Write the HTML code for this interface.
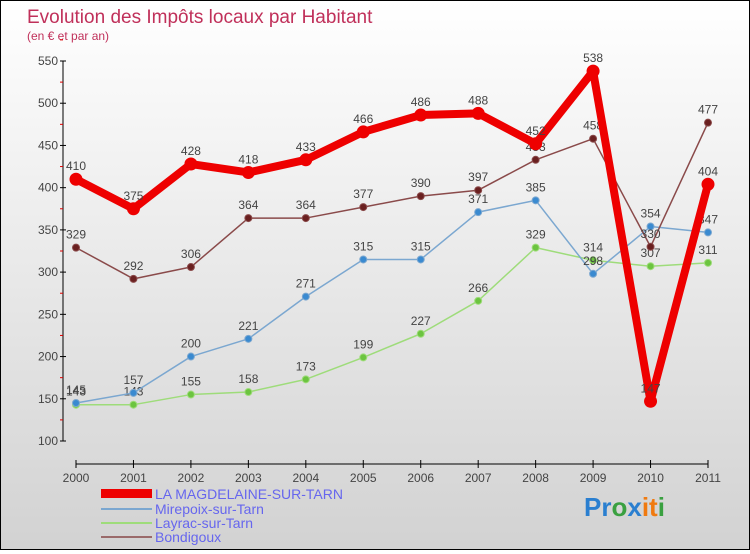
<!DOCTYPE html>
<html><head><meta charset="utf-8"><style>
body{margin:0;}
#c{width:748px;height:548px;border:1px solid #000;background:linear-gradient(#fff,#d2d2d2);position:relative;font-family:"Liberation Sans",sans-serif;}
svg text{font-family:"Liberation Sans",sans-serif;}
</style></head><body>
<div id="c">
<svg id="s" width="748" height="548">
<text x="26" y="22" font-size="19" fill="#c0305a">Evolution des Impôts locaux par Habitant</text>
<text x="26" y="39" font-size="12" fill="#c0305a">(en € et par an)</text>
<g id="axes"></g><g id="series"></g>
<g id="legend">
<rect x="100" y="488" width="51" height="9" fill="#e00"/>
<text x="154" y="498" font-size="14" fill="#6666ee">LA MAGDELAINE-SUR-TARN</text>
<rect x="100" y="507" width="51" height="2" fill="#7ba7d0"/>
<text x="154" y="513" font-size="14" fill="#6666ee">Mirepoix-sur-Tarn</text>
<rect x="100" y="521" width="51" height="2" fill="#9edc7a"/>
<text x="154" y="527" font-size="14" fill="#6666ee">Layrac-sur-Tarn</text>
<rect x="100" y="535" width="51" height="2" fill="#9a6a6a"/>
<text x="154" y="541" font-size="14" fill="#6666ee">Bondigoux</text>
</g>
<text x="583" y="515" font-size="26" font-weight="bold"><tspan fill="#2a7fd0">Pr</tspan><tspan fill="#3aa040">o</tspan><tspan fill="#2a7fd0">x</tspan><tspan fill="#f07a10">it</tspan><tspan fill="#3aa040">i</tspan></text>
</svg></div>
<script>
const years=[2000,2001,2002,2003,2004,2005,2006,2007,2008,2009,2010,2011];
const yTicks=[100,150,200,250,300,350,400,450,500,550];
const magdelaine=[410,375,428,418,433,466,486,488,452,538,147,404];
const mirepoix=[145,157,200,221,271,315,315,371,385,298,354,347];
const layrac=[143,143,155,158,173,199,227,266,329,314,307,311];
const bondigoux=[329,292,306,364,364,377,390,397,433,458,330,477];
const NS="http://www.w3.org/2000/svg";
function X(i){return 75+i*(707-75)/(years.length-1);}
function Y(v){return 440-(v-100)*380/450;}
function mk(t,a,p){const e=document.createElementNS(NS,t);for(const k in a)e.setAttribute(k,a[k]);p.appendChild(e);return e;}
const ax=document.getElementById('axes');
let l=mk('line',{x1:62,y1:Y(550),x2:62,y2:Y(100),stroke:'#000'},ax);


yTicks.forEach(v=>{
 mk('line',{x1:59,x2:65,y1:Y(v),y2:Y(v),stroke:'#000'},ax);
 mk('line',{x1:59,x2:62,y1:Y(v+25),y2:Y(v+25),stroke:'#d00'},ax);
 const t=mk('text',{x:57,y:Y(v)+4,'text-anchor':'end','font-size':12,fill:'#444'},ax);
 t.textContent=v;
 
 
});
l=mk('line',{x1:75,y1:463,x2:707,y2:463,stroke:'#000'},ax);


years.forEach((y,i)=>{
 mk('line',{x1:X(i),x2:X(i),y1:459,y2:467,stroke:'#000'},ax);
 const t=mk('text',{x:X(i),y:481,'text-anchor':'middle','font-size':12,fill:'#444'},ax);
 t.textContent=y;
 
 
});
const sg=document.getElementById('series');
function draw(vals,name,color,w,r,dot){
 const g=mk('g',{},sg);
 
 
 const p=mk('polyline',{points:vals.map((v,i)=>X(i)+','+Y(v)).join(' '),fill:'none',stroke:color,'stroke-width':w,'stroke-linejoin':'round'},g);
 
 
 vals.forEach((v,i)=>{
  const c=mk('circle',{cx:X(i),cy:Y(v),r:r,fill:dot,stroke:color,'stroke-width':1},g);
  
  
  const t=mk('text',{x:X(i),y:Y(v)-9,'text-anchor':'middle','font-size':12,fill:'#444'},g);
  t.textContent=v;
  
  
 });
}
draw(layrac,'layrac','#9edc7a',1.5,3.5,'#6cc440');
draw(mirepoix,'mirepoix','#7ba7d0',1.5,3.5,'#3a8ad0');
draw(bondigoux,'bondigoux','#8a4a4a',1.5,3.5,'#6a2020');
draw(magdelaine,'magdelaine','#ee0000',8,6,'#ee0000');
</script>
</body></html>
